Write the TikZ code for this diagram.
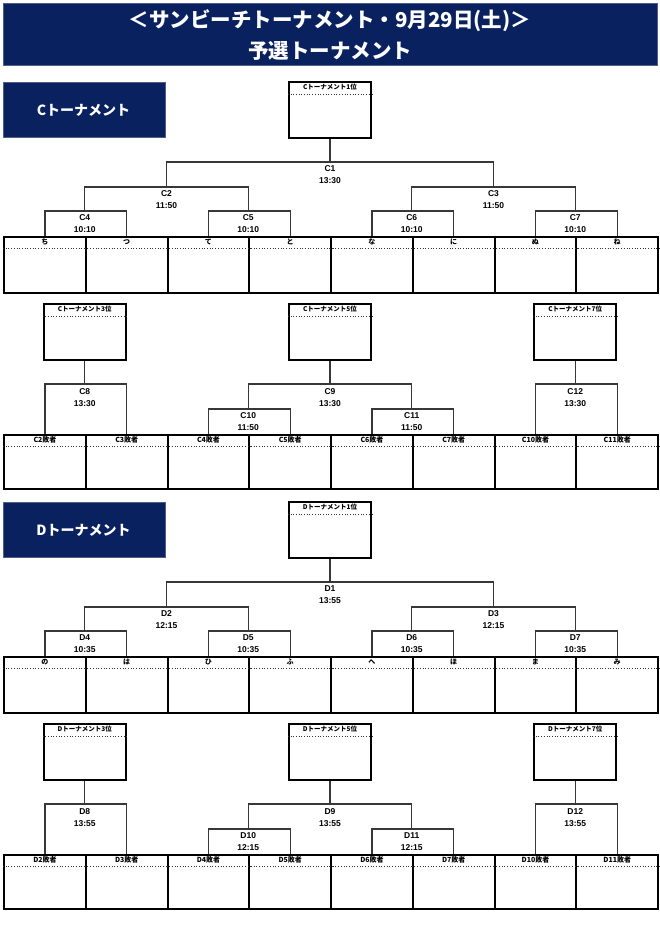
\documentclass[tikz,border=0pt]{standalone}
\usepackage{fontspec}
\setmainfont{Liberation Sans}
\newfontfamily\jp{Noto Sans CJK JP}
\definecolor{navy}{RGB}{10,33,96}
\definecolor{navyedge}{RGB}{80,92,140}
\definecolor{linegray}{RGB}{55,55,55}
\begin{document}
\begin{tikzpicture}[x=1pt,y=-1pt,
  conn/.style={draw=linegray,line width=1.3pt},
  teambox/.style={draw=black,line width=2.2pt,minimum width=81.75pt,minimum height=#1,inner sep=0pt,anchor=north west},
  placebox/.style={draw=black,line width=2.4pt,minimum width=82pt,minimum height=56pt,inner sep=0pt,anchor=north},
  secbox/.style={draw=navyedge,fill=navy,line width=1pt,minimum width=162pt,minimum height=55pt,inner sep=0pt,anchor=north west},
  sectext/.style={text=white,font=\jp\bfseries\fontsize{14}{16}\selectfont,inner sep=0pt},
  matchlbl/.style={font=\bfseries\fontsize{8.5}{12}\selectfont,align=center,inner sep=0pt,anchor=north},
  smalllbl/.style={font=\jp\bfseries\fontsize{6.5}{7}\selectfont,inner sep=0pt},
  teamlbl/.style={font=\jp\bfseries\fontsize{7}{8}\selectfont,inner sep=0pt},
  dotline/.style={draw=black!80,line width=0.7pt,dotted}]
\useasboundingbox (0,0) rectangle (660,934);
% title
\node[draw=navyedge,fill=navy,line width=1pt,minimum width=654pt,minimum height=62pt,anchor=north west,inner sep=0pt] (title) at (3,3) {};
\node[font=\jp\bfseries\fontsize{20.5}{31}\selectfont,text=white,align=center,inner sep=0pt] (titletext) at (330,35.5) {＜サンビーチトーナメント・9月29日(土)＞\\予選トーナメント};
\foreach \L/\off/\ta/\tb/\tc/\names in {C/0/13:30/11:50/10:10/{ち,つ,て,と,な,に,ぬ,ね},D/420/13:55/12:15/10:35/{の,は,ひ,ふ,へ,ほ,ま,み}}{
\begin{scope}[yshift=-\off pt]
  \node[secbox] (\L sec) at (3,82) {};
  \node[sectext] (\L sectext) at (83.5,110) {\L{}トーナメント};
  % place boxes
  \node[placebox] (\L p1) at (330,81) {};
  \node[placebox] (\L p3) at (84.75,303) {};
  \node[placebox] (\L p5) at (330,303) {};
  \node[placebox] (\L p7) at (575.25,303) {};
  \foreach \p in {1,3,5,7}{
    \node[smalllbl] (\L pl\p) at ([yshift=-6.5pt]\L p\p.north) {\L{}トーナメント\p{}位};
    \draw[dotline] ([yshift=-13pt]\L p\p.north west) -- ([yshift=-13pt]\L p\p.north east);
  }
  % team boxes row 1
  \foreach \n [count=\i] in \names{
    \node[teambox=56pt] (\L t\i) at ({3+81.75*(\i-1)},236) {};
    \node[teamlbl] (\L tl\i) at ([yshift=-6pt]\L t\i.north) {\n};
    \draw[dotline] ([yshift=-12pt]\L t\i.north west) -- ([yshift=-12pt]\L t\i.north east);
  }
  % team boxes row 2
  \foreach \n [count=\i] in {2,3,4,5,6,7,10,11}{
    \node[teambox=54pt] (\L u\i) at ({3+81.75*(\i-1)},434) {};
    \node[teamlbl] (\L ul\i) at ([yshift=-5.5pt]\L u\i.north) {\L\n{}敗者};
    \draw[dotline] ([yshift=-12pt]\L u\i.north west) -- ([yshift=-12pt]\L u\i.north east);
  }
  % match points
  \coordinate (\L m1) at (330,162);
  \coordinate (\L m2) at (166.5,187);
  \coordinate (\L m3) at (493.5,187);
  \coordinate (\L m4) at (84.75,211);
  \coordinate (\L m5) at (248.25,211);
  \coordinate (\L m6) at (411.75,211);
  \coordinate (\L m7) at (575.25,211);
  \coordinate (\L m8) at (84.75,384);
  \coordinate (\L m9) at (330,384);
  \coordinate (\L m10) at (248.25,409);
  \coordinate (\L m11) at (411.75,409);
  \coordinate (\L m12) at (575.25,384);
  % connectors row 1
  \draw[conn] (\L t1.north) |- (\L m4) -| (\L t2.north);
  \draw[conn] (\L t3.north) |- (\L m5) -| (\L t4.north);
  \draw[conn] (\L t5.north) |- (\L m6) -| (\L t6.north);
  \draw[conn] (\L t7.north) |- (\L m7) -| (\L t8.north);
  \draw[conn] (\L m4) |- (\L m2) -| (\L m5);
  \draw[conn] (\L m6) |- (\L m3) -| (\L m7);
  \draw[conn] (\L m2) |- (\L m1) -| (\L m3);
  \draw[conn] (\L p1.south) -- (\L m1);
  % connectors row 2
  \draw[conn] (\L u1.north) |- (\L m8) -| (\L u2.north);
  \draw[conn] (\L p3.south) -- (\L m8);
  \draw[conn] (\L u3.north) |- (\L m10) -| (\L u4.north);
  \draw[conn] (\L u5.north) |- (\L m11) -| (\L u6.north);
  \draw[conn] (\L m10) |- (\L m9) -| (\L m11);
  \draw[conn] (\L p5.south) -- (\L m9);
  \draw[conn] (\L u7.north) |- (\L m12) -| (\L u8.north);
  \draw[conn] (\L p7.south) -- (\L m12);
  % match labels
  \node[matchlbl] (\L ml1) at ([yshift=-3.5pt]\L m1) {\L1\\\ta};
  \node[matchlbl] (\L ml2) at ([yshift=-3.5pt]\L m2) {\L2\\\tb};
  \node[matchlbl] (\L ml3) at ([yshift=-3.5pt]\L m3) {\L3\\\tb};
  \node[matchlbl] (\L ml4) at ([yshift=-3.5pt]\L m4) {\L4\\\tc};
  \node[matchlbl] (\L ml5) at ([yshift=-3.5pt]\L m5) {\L5\\\tc};
  \node[matchlbl] (\L ml6) at ([yshift=-3.5pt]\L m6) {\L6\\\tc};
  \node[matchlbl] (\L ml7) at ([yshift=-3.5pt]\L m7) {\L7\\\tc};
  \node[matchlbl] (\L ml8) at ([yshift=-4pt]\L m8) {\L8\\\ta};
  \node[matchlbl] (\L ml9) at ([yshift=-4pt]\L m9) {\L9\\\ta};
  \node[matchlbl] (\L ml10) at ([yshift=-3.5pt]\L m10) {\L10\\\tb};
  \node[matchlbl] (\L ml11) at ([yshift=-3.5pt]\L m11) {\L11\\\tb};
  \node[matchlbl] (\L ml12) at ([yshift=-4pt]\L m12) {\L12\\\ta};
\end{scope}
}
\end{tikzpicture}
\end{document}
